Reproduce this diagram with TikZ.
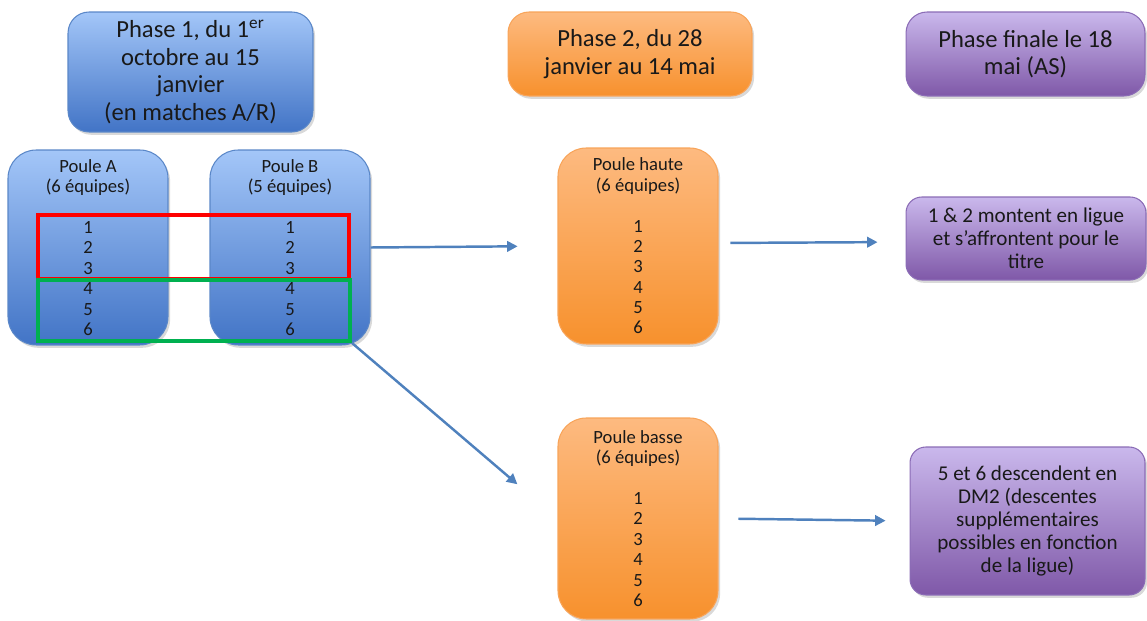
\documentclass[tikz,border=0pt]{standalone}
\usepackage{fontspec}
\setmainfont{Carlito}
\usetikzlibrary{arrows.meta,shadows}

\definecolor{bleuH}{HTML}{A3C6F8}
\definecolor{bleuF}{HTML}{4274C6}
\definecolor{bleuT}{HTML}{5A87C8}
\definecolor{orangeH}{HTML}{FDBA80}
\definecolor{orangeF}{HTML}{F7912D}
\definecolor{orangeT}{HTML}{F8A459}
\definecolor{violetH}{HTML}{CAB8EC}
\definecolor{violetF}{HTML}{7F58A8}
\definecolor{violetT}{HTML}{8B6CB6}
\definecolor{fleche}{HTML}{4F81BD}
\definecolor{vert}{HTML}{00B050}

\begin{document}
\begin{tikzpicture}
[
    x=0.02cm, y=-0.02cm,
    boite/.style={draw, line width=0.6pt, align=center, text=black!90, inner sep=0pt,
        drop shadow={shadow xshift=1.2pt, shadow yshift=-1.6pt, opacity=0.3}},
    phase/.style={boite, rounded corners=12pt, font=\fontsize{14}{15.7}\selectfont},
    bleu/.style={draw=bleuT, top color=bleuH, bottom color=bleuF},
    orange/.style={draw=orangeT, top color=orangeH, bottom color=orangeF},
    violet/.style={draw=violetT, top color=violetH, bottom color=violetF},
    poule/.style={boite, rounded corners=16pt, minimum width=3.2cm, font=\fontsize{10.6}{11.6}\selectfont},
    fin/.style={boite, violet, rounded corners=9pt, font=\fontsize{12}{13}\selectfont},
    cadre/.style={draw, line width=2.2pt, inner sep=0pt},
    lien/.style={draw=fleche, line width=1.4pt, -{Triangle[length=6pt,width=6pt]}},
]
    \useasboundingbox (0,0) rectangle (1147,621);

    % phases
    \node[phase, bleu, minimum width=4.9cm, minimum height=2.4cm] (P1) at (190.5,72)
        {Phase 1, du 1\textsuperscript{er}\\octobre au 15\\janvier\\(en matches A/R)};
    \node[phase, orange, minimum width=4.88cm, minimum height=1.68cm] (P2) at (630,54)
        {Phase 2, du 28\\janvier au 14 mai};
    \node[phase, violet, minimum width=4.78cm, minimum height=1.68cm] (PF) at (1025.5,54)
        {Phase finale le 18\\mai (AS)};

    % poules
    \node[poule, bleu, minimum height=3.9cm] (PA) at (88,247.5)
        {Poule A\\(6 équipes)\\[11.6pt]1\\2\\3\\4\\5\\6};
    \node[poule, bleu, minimum height=3.9cm] (PB) at (290,247.5)
        {Poule B\\(5 équipes)\\[11.6pt]1\\2\\3\\4\\5\\6};
    \node[poule, orange, minimum height=3.92cm] (PH) at (638,246)
        {Poule haute\\(6 équipes)\\[11.6pt]1\\2\\3\\4\\5\\6};
    \node[poule, orange, minimum height=4.02cm] (PBa) at (638,518.5)
        {Poule basse\\(6 équipes)\\[11.6pt]1\\2\\3\\4\\5\\6};

    \node[cadre, draw=red, minimum width=6.22cm, minimum height=1.28cm] (haut) at (193.5,247) {};
    \node[cadre, draw=vert, minimum width=6.24cm, minimum height=1.22cm] (bas) at (194,310.5) {};

    % issues
    \node[fin, minimum width=4.8cm, minimum height=1.66cm] (F1) at (1026,238.5)
        {1 \& 2 montent en ligue\\et s’affrontent pour le\\titre};
    \node[fin, minimum width=4.7cm, minimum height=2.96cm] (F2) at (1027.5,521)
        {5 et 6 descendent en\\DM2 (descentes\\supplémentaires\\possibles en fonction\\de la ligue)};

    \draw[lien, shorten >=22.7pt] (PB.east) -- (PH.west);
    \draw[lien, shorten >=30pt] (bas.south east) -- (PBa.west);
    \draw[lien, shorten <=6.8pt, shorten >=15.9pt] ([yshift=0.06cm]PH.east) -- ([yshift=-0.07cm]F1.west);
    \draw[lien, shorten <=11.3pt, shorten >=13.6pt] (PBa.east) -- (F2.west);
\end{tikzpicture}
\end{document}
